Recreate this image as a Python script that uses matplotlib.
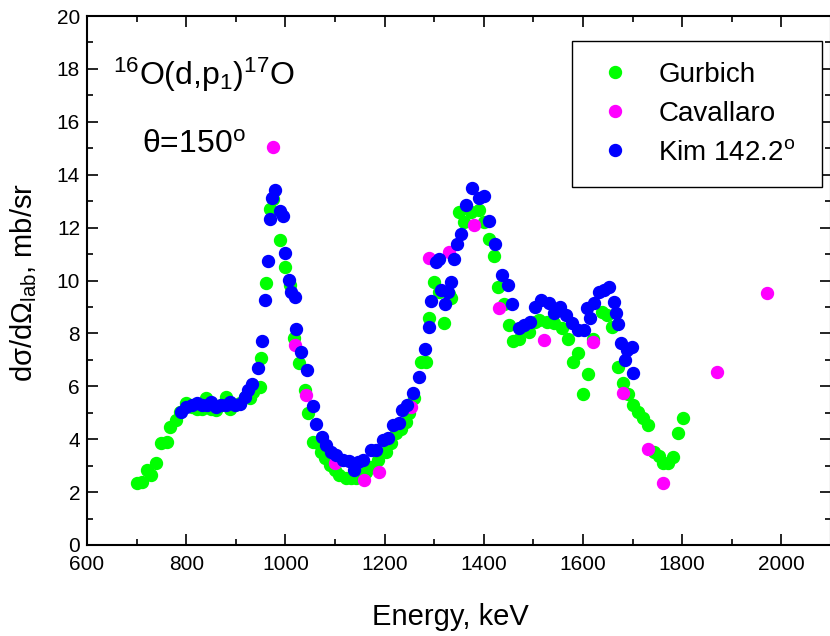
import matplotlib
matplotlib.use("Agg")
import matplotlib.pyplot as plt
from matplotlib.ticker import MultipleLocator

# ── data ──
gurbich_e = [700, 710, 720, 730, 740, 750, 761, 768, 780, 787, 799, 811, 821, 831, 840,
             849, 861, 871, 881, 888, 898, 908, 918, 928, 935, 948, 951, 960, 968, 975,
             990, 1000, 1010, 1018, 1028, 1039, 1046, 1055, 1065, 1072, 1079, 1089, 1099,
             1109, 1122, 1132, 1142, 1152, 1162, 1173, 1186, 1203, 1213, 1223, 1233, 1243,
             1250, 1260, 1273, 1283, 1290, 1300, 1310, 1320, 1330, 1334, 1349, 1360, 1374,
             1391, 1401, 1411, 1421, 1429, 1441, 1451, 1459, 1471, 1491, 1503, 1511, 1528,
             1541, 1558, 1570, 1580, 1590, 1600, 1610, 1620, 1639, 1649, 1659, 1671, 1680,
             1691, 1700, 1711, 1720, 1731, 1743, 1754, 1761, 1771, 1781, 1792, 1801]
gurbich_v = [2.33, 2.39, 2.84, 2.65, 3.09, 3.84, 3.90, 4.47, 4.73, 5.04, 5.36, 5.23, 5.16,
             5.16, 5.54, 5.16, 5.10, 5.30, 5.60, 5.16, 5.30, 5.35, 5.60, 5.55, 5.80, 5.99,
             7.06, 9.89, 12.69, 13.10, 11.53, 10.52, 9.83, 7.81, 6.87, 5.86, 4.98, 3.91,
             3.84, 3.50, 3.28, 3.02, 2.84, 2.65, 2.52, 2.55, 2.52, 2.60, 2.75, 2.96, 3.21,
             3.53, 3.84, 4.22, 4.40, 4.66, 5.00, 5.55, 6.93, 6.93, 8.57, 9.95, 9.58, 8.38,
             9.50, 9.33, 12.60, 12.22, 12.60, 12.66, 12.22, 11.56, 10.93, 9.77, 9.11, 8.32,
             7.72, 7.78, 8.07, 8.44, 8.50, 8.44, 8.38, 8.19, 7.78, 6.93, 7.25, 5.71, 6.45,
             7.78, 8.82, 8.70, 8.23, 6.72, 6.11, 5.71, 5.29, 5.04, 4.79, 4.54, 3.53, 3.38,
             3.09, 3.09, 3.34, 4.22, 4.79]

cavallaro_e = [975, 1020, 1041, 1099, 1159, 1189, 1253, 1289, 1330, 1381, 1431, 1521,
               1621, 1680, 1731, 1761, 1871, 1971]
cavallaro_v = [15.05, 7.56, 5.67, 3.09, 2.46, 2.77, 5.23, 10.84, 11.09, 12.10, 8.95, 7.75,
               7.69, 5.73, 3.62, 2.33, 6.53, 9.54]

kim_e = [790, 800, 811, 821, 831, 841, 849, 861, 871, 881, 888, 898, 908, 918, 924, 933,
         945, 953, 958, 965, 968, 973, 980, 990, 996, 1000, 1008, 1012, 1020, 1022, 1032,
         1043, 1055, 1061, 1074, 1082, 1092, 1102, 1116, 1129, 1139, 1146, 1156, 1173,
         1183, 1196, 1206, 1216, 1230, 1236, 1246, 1258, 1270, 1282, 1289, 1294, 1303,
         1310, 1313, 1322, 1327, 1334, 1340, 1345, 1354, 1365, 1377, 1391, 1401, 1411,
         1423, 1436, 1448, 1456, 1471, 1481, 1494, 1504, 1516, 1531, 1541, 1553, 1565,
         1578, 1590, 1602, 1608, 1615, 1622, 1632, 1642, 1653, 1662, 1667, 1671, 1676,
         1684, 1689, 1699, 1701]
kim_v = [5.04, 5.23, 5.29, 5.36, 5.29, 5.29, 5.42, 5.23, 5.29, 5.29, 5.42, 5.29, 5.32,
         5.60, 5.86, 6.10, 6.70, 7.70, 9.28, 10.74, 12.31, 13.13, 13.44, 12.62, 12.43,
         11.04, 10.03, 9.58, 9.39, 8.16, 7.28, 6.62, 5.26, 4.58, 4.10, 3.78, 3.53, 3.40,
         3.21, 3.18, 2.84, 3.15, 3.21, 3.59, 3.59, 3.97, 4.03, 4.54, 4.60, 5.10, 5.29,
         5.73, 6.36, 7.40, 8.25, 9.22, 10.71, 10.80, 9.64, 9.11, 9.58, 9.95, 10.80, 11.38,
         11.74, 12.85, 13.51, 13.13, 13.20, 12.26, 11.37, 10.21, 9.83, 9.11, 8.19, 8.32,
         8.44, 9.01, 9.26, 9.14, 8.76, 8.99, 8.70, 8.38, 8.13, 8.13, 8.95, 8.57, 9.14,
         9.58, 9.64, 9.74, 9.20, 8.76, 8.36, 7.62, 6.99, 7.37, 7.47, 6.49]

plt.rcParams['font.family'] = ['Liberation Sans', 'DejaVu Sans']
plt.rcParams['mathtext.fontset'] = 'custom'
plt.rcParams['mathtext.rm'] = 'Liberation Sans'
plt.rcParams['mathtext.it'] = 'Liberation Sans:italic'
plt.rcParams['mathtext.bf'] = 'Liberation Sans:bold'

fig = plt.figure(figsize=(8.30, 6.36), dpi=100)
ax = fig.add_axes([87 / 830, 91 / 636, 744 / 830, 529 / 636])

ms = 8.6
ax.plot(gurbich_e, gurbich_v, 'o', ms=ms, color='#00ff00', mec='#00ff00', label='Gurbich')
ax.plot(cavallaro_e, cavallaro_v, 'o', ms=ms, color='#ff00ff', mec='#ff00ff', label='Cavallaro')
ax.plot(kim_e, kim_v, 'o', ms=ms, color='#0000ff', mec='#0000ff', label='Kim 142.2$^{\\rm o}$')

ax.set_xlim(600, 2100)
ax.set_ylim(0, 20)
ax.xaxis.set_major_locator(MultipleLocator(200))
ax.xaxis.set_minor_locator(MultipleLocator(100))
ax.yaxis.set_major_locator(MultipleLocator(2))
ax.yaxis.set_minor_locator(MultipleLocator(1))
ax.tick_params(which='both', direction='in', top=True, right=True, width=1.2, labelsize=15)
ax.tick_params(which='major', length=8)
ax.tick_params(which='minor', length=4.3)
ax.tick_params(axis='x', pad=7)
ax.tick_params(axis='y', pad=5)
for sp in ax.spines.values():
    sp.set_linewidth(1.5)

ax.set_xlabel('Energy, keV', fontsize=21)
ax.xaxis.set_label_coords(363 / 744, -0.11)
fig.text(24 / 830, 1 - 282 / 636, 'd\u03c3/d\u03a9$_{\\rm lab}$, mb/sr', fontsize=21,
         rotation=90, ha='center', va='center')

fig.text(113 / 830, 1 - 85 / 636, '$^{16}$O(d,p$_1$)$^{17}$O', fontsize=23, va='baseline')
fig.text(142 / 830, 1 - 153 / 636, '\u03b8=150$^{\\rm o}$', fontsize=23, va='baseline')

leg = ax.legend(loc='upper left', bbox_to_anchor=(0.652, 0.684, 0.336, 0.269), mode='expand',
                fontsize=20, frameon=True, fancybox=False, framealpha=1, edgecolor='black',
                borderpad=0.75, labelspacing=0.47, handletextpad=0.75, handlelength=1.6,
                borderaxespad=0)
leg.get_frame().set_linewidth(1.0)

fig.savefig('out.png', dpi=100)
